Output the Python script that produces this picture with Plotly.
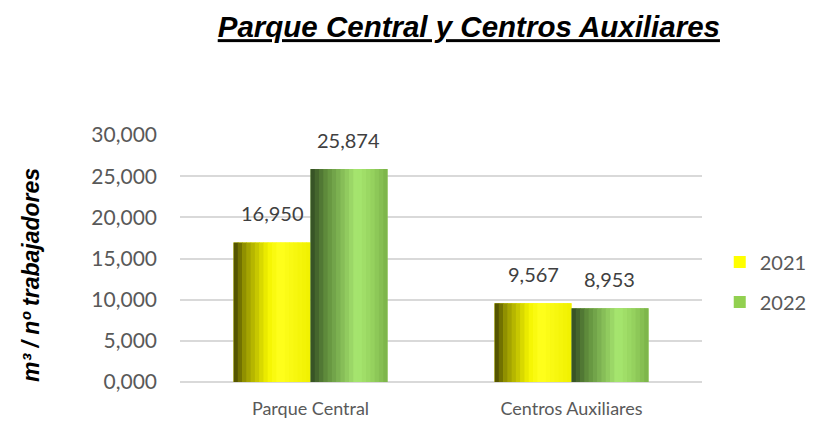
import plotly.graph_objects as go

# data
categories = ["Parque Central", "Centros Auxiliares"]
years = ["2021", "2022"]
values_2021 = [16.950, 9.567]
values_2022 = [25.874, 8.953]
y_ticks = [0, 5, 10, 15, 20, 25, 30]

series = [
    {"name": "2021", "y": values_2021, "base": "#FFFF00", "legend": "legend",
     "stops": [(0, (70, 70, 0)), (0.15, (150, 150, 0)), (0.45, (245, 245, 0)),
               (0.6, (255, 255, 30)), (1.0, (240, 240, 0))]},
    {"name": "2022", "y": values_2022, "base": "#92D050", "legend": "legend2",
     "stops": [(0, (50, 75, 35)), (0.2, (95, 140, 60)), (0.6, (168, 232, 112)),
               (0.8, (150, 210, 95)), (1.0, (122, 178, 72))]},
]


def shade(stops, t):
    for (t0, c0), (t1, c1) in zip(stops[:-1], stops[1:]):
        if t0 <= t <= t1:
            f = (t - t0) / (t1 - t0)
            c = [round(a + (b - a) * f) for a, b in zip(c0, c1)]
            return f"rgb({c[0]},{c[1]},{c[2]})"
    return "rgb(%d,%d,%d)" % stops[-1][1]


def fmt(v):
    # spanish style decimal comma
    return f"{v:.3f}".replace(".", ",")


bar_w = 0.295
n_strips = 18
fig = go.Figure()
labels = []

for k, s in enumerate(series):
    start = -bar_w + k * bar_w
    # main bar carries the legend entry
    fig.add_trace(go.Bar(
        x=categories, y=s["y"], name=s["name"], legend=s["legend"],
        offset=start, width=bar_w,
        marker=dict(color=s["base"], line=dict(width=0)),
    ))
    # shading strips to mimic the cylinder gradient
    sw = bar_w / n_strips
    for i in range(n_strips):
        t = (i + 0.5) / n_strips
        fig.add_trace(go.Bar(
            x=categories, y=s["y"], showlegend=False, hoverinfo="skip",
            offset=start + i * sw, width=sw * 1.15 if i < n_strips - 1 else sw,
            marker=dict(color=shade(s["stops"], t), line=dict(width=0)),
        ))
    for c, v in zip(categories, s["y"]):
        labels.append(dict(
            x=c, y=v, text=fmt(v), showarrow=False,
            xanchor="center", yanchor="bottom",
            xshift=-38 if k == 0 else 38, yshift=15,
            font=dict(family="Lato", size=20, color="#404040"),
        ))

labels.append(dict(
    text="<b><i>m³ / nº trabajadores</i></b>",
    xref="paper", yref="paper", x=-0.2855, y=0.433,
    xanchor="center", yanchor="middle", textangle=-90, showarrow=False,
    font=dict(family="Liberation Sans", size=23, color="black"),
))

fig.update_layout(
    width=820, height=438,
    barmode="overlay",
    separators=",.",
    paper_bgcolor="white", plot_bgcolor="white",
    margin=dict(l=172, r=126, t=127, b=64, autoexpand=False),
    font=dict(family="Lato", size=20, color="#595959"),
    title=dict(
        text="<b><i><u>Parque Central y Centros Auxiliares</u></i></b>",
        font=dict(family="Liberation Sans", size=29.5, color="black"),
        x=0.562, xanchor="center", y=0.957, yanchor="middle",
    ),
    xaxis=dict(
        showgrid=False, showline=False, ticks="", ticklabelstandoff=14,
        tickfont=dict(family="Lato", size=18, color="#595959"),
    ),
    yaxis=dict(
        range=[0, 30], tickvals=y_ticks, tickformat=".3f",
        showgrid=True, gridcolor="#d9d9d9", gridwidth=2,
        zeroline=True, zerolinecolor="#d9d9d9", zerolinewidth=2,
        showline=False, ticks="", ticklabelstandoff=22,
        tickfont=dict(family="Lato", size=21, color="#595959"),
    ),
    legend=dict(x=1.034, y=0.486, xanchor="left", yanchor="middle",
                font=dict(family="Lato", size=20, color="#595959"),
                bgcolor="rgba(0,0,0,0)"),
    legend2=dict(x=1.034, y=0.324, xanchor="left", yanchor="middle",
                 font=dict(family="Lato", size=20, color="#595959"),
                 bgcolor="rgba(0,0,0,0)"),
    showlegend=True,
    annotations=labels,
)

fig.write_html("out.html")
